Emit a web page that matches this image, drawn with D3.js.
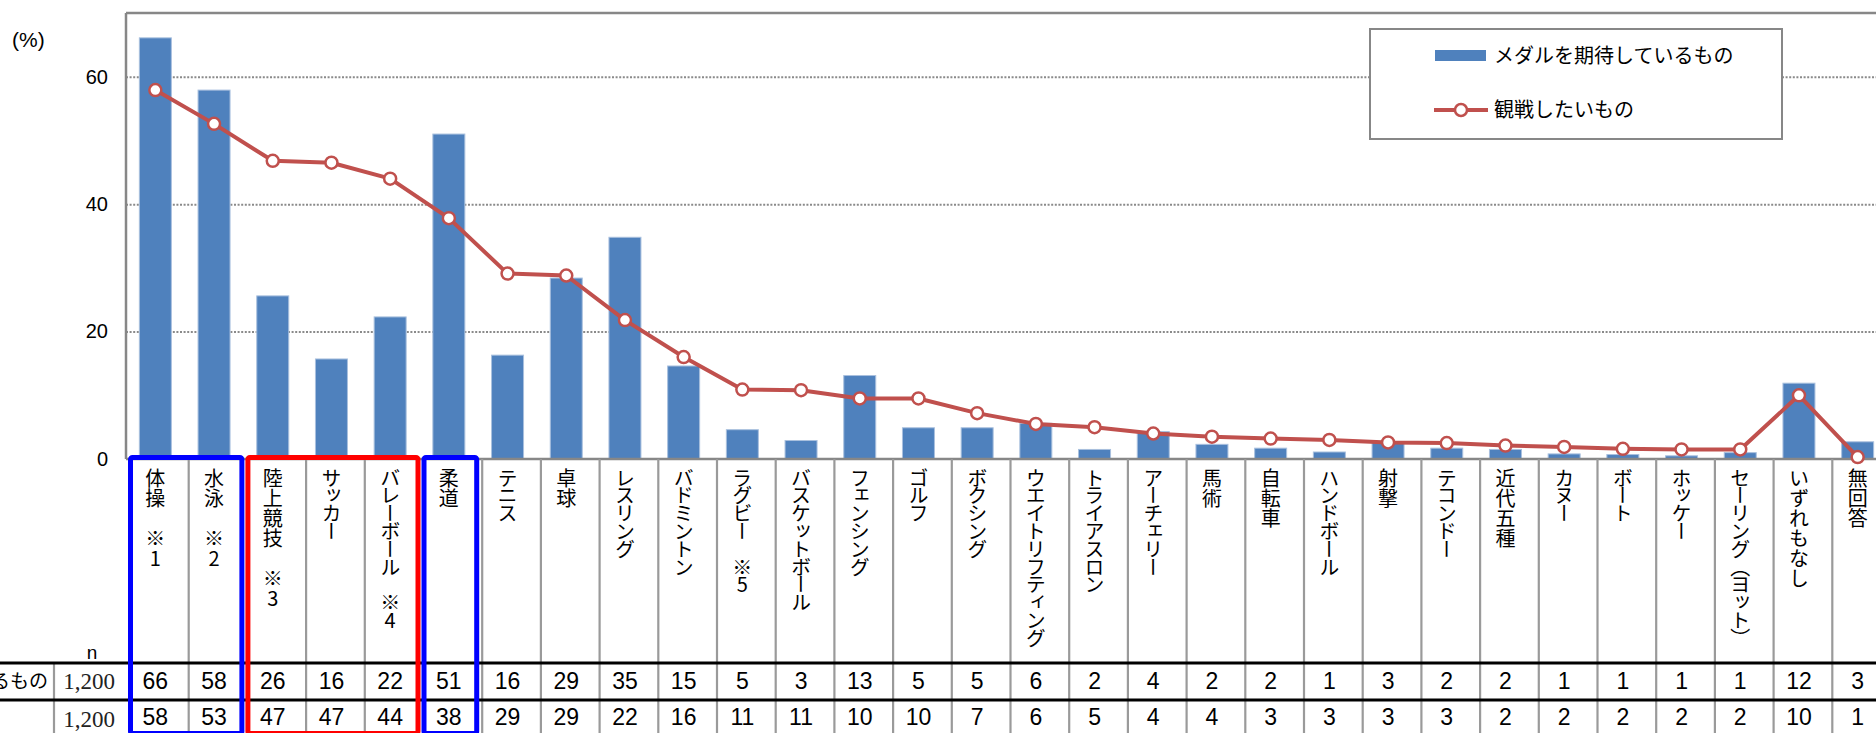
<!DOCTYPE html>
<html>
<head>
<meta charset="utf-8">
<script src="https://cdn.jsdelivr.net/npm/d3@7"></script>
<style>
  html, body { margin: 0; padding: 0; background: #fff; overflow: hidden; }
  svg { display: block; }
  .jp { font-family: "Noto Sans CJK JP", sans-serif; }
  .num { font-family: "Liberation Sans", Arial, sans-serif; }
</style>
</head>
<body>
<script>
"use strict";

// categories (with note marks as shown under the chart)
const categories = [
  "体操　※1", "水泳　※2", "陸上競技　※3", "サッカー", "バレーボール　※4", "柔道",
  "テニス", "卓球", "レスリング", "バドミントン", "ラグビー　※5", "バスケットボール",
  "フェンシング", "ゴルフ", "ボクシング", "ウエイトリフティング", "トライアスロン",
  "アーチェリー", "馬術", "自転車", "ハンドボール", "射撃", "テコンドー", "近代五種",
  "カヌー", "ボート", "ホッケー", "セーリング（ヨット）", "いずれもなし", "無回答"
];

const seriesNames = ["メダルを期待しているもの", "観戦したいもの"];

// bar series (%)
const medalValues = [
  66.1, 57.9, 25.6, 15.7, 22.3, 51.0, 16.3, 28.4, 34.8, 14.6,
  4.6, 2.9, 13.1, 4.9, 4.9, 5.6, 1.5, 4.3, 2.3, 1.7,
  1.1, 2.6, 1.7, 1.5, 0.8, 0.7, 0.5, 1.0, 11.9, 2.7
];

// line series (%)
const watchValues = [
  57.9, 52.6, 46.8, 46.5, 44.0, 37.8, 29.1, 28.8, 21.8, 16.0,
  10.9, 10.8, 9.5, 9.5, 7.2, 5.5, 5.0, 4.0, 3.5, 3.2,
  3.0, 2.6, 2.5, 2.1, 1.9, 1.6, 1.5, 1.5, 10.0, 0.3
];

// rounded values printed in the table rows
const medalTable = [66, 58, 26, 16, 22, 51, 16, 29, 35, 15, 5, 3, 13, 5, 5, 6, 2, 4, 2, 2, 1, 3, 2, 2, 1, 1, 1, 1, 12, 3];
const watchTable = [58, 53, 47, 47, 44, 38, 29, 29, 22, 16, 11, 11, 10, 10, 7, 6, 5, 4, 4, 3, 3, 3, 3, 2, 2, 2, 2, 2, 10, 1];
const sampleSizes = ["1,200", "1,200"];

const yTicks = [0, 20, 40, 60];

// highlighted groups of columns
const groups = [
  { from: 0, to: 1, color: "#0000ff" },
  { from: 2, to: 4, color: "#ff0000" },
  { from: 5, to: 5, color: "#0000ff" }
];

const m = {
  width: 1876,
  height: 733,
  left: 126,
  top: 13,
  bottom: 459,
  col: 58.7
};

const barColor = "#4f81bd";
const lineColor = "#c0504d";
const frameColor = "#878787";

const svg = d3
  .select("body")
  .append("svg")
  .attr("width", m.width)
  .attr("height", m.height);

const x = d3
  .scaleBand()
  .domain(categories)
  .range([m.left, m.left + m.col * categories.length])
  .padding(0);

const y = d3
  .scaleLinear()
  .domain([0, 70])
  .range([m.bottom, m.top]);

// grid lines
svg
  .append("g")
  .attr("transform", `translate(${m.left},0)`)
  .call(
    d3.axisLeft(y)
      .tickValues(yTicks.filter(d => d > 0))
      .tickSize(-(m.width - m.left))
      .tickFormat("")
  )
  .call(g => g.select(".domain").remove())
  .call(g =>
    g.selectAll("line")
      .attr("stroke", "#8a8a8a")
      .attr("stroke-width", 2)
      .attr("stroke-dasharray", "2,1.6")
  );

// y labels
svg
  .append("g")
  .attr("transform", `translate(${m.left},0)`)
  .call(d3.axisLeft(y).tickValues(yTicks).tickSize(0).tickPadding(18))
  .call(g => g.select(".domain").remove())
  .call(g =>
    g.selectAll("text")
      .attr("class", "num")
      .attr("font-size", 20)
      .attr("fill", "#000")
  );

svg
  .append("text")
  .attr("class", "num")
  .attr("x", 12)
  .attr("y", 47)
  .attr("font-size", 21)
  .text("(%)");

// bars
const bw = x.bandwidth() * 0.545;
svg
  .append("g")
  .selectAll("rect")
  .data(medalValues)
  .enter()
  .append("rect")
  .attr("x", (d, i) => x(categories[i]) + (x.bandwidth() - bw) / 2)
  .attr("y", d => y(d))
  .attr("width", bw)
  .attr("height", d => y(0) - y(d))
  .attr("fill", barColor)
  .attr("stroke", "#a9c0de")
  .attr("stroke-width", 1);

// frame
const frame = svg.append("g").attr("stroke", frameColor).attr("stroke-width", 2.5);
frame.append("line").attr("x1", m.left).attr("x2", m.left).attr("y1", m.top).attr("y2", m.bottom);
frame.append("line").attr("x1", m.left).attr("x2", m.width).attr("y1", m.top).attr("y2", m.top);
frame.append("line").attr("x1", m.left).attr("x2", m.width).attr("y1", m.bottom).attr("y2", m.bottom);

// line series
const cx = i => x(categories[i]) + x.bandwidth() / 2;
const line = d3
  .line()
  .x((d, i) => cx(i))
  .y(d => y(d));

svg
  .append("path")
  .datum(watchValues)
  .attr("d", line)
  .attr("fill", "none")
  .attr("stroke", lineColor)
  .attr("stroke-width", 4)
  .attr("stroke-linejoin", "round");

svg
  .append("g")
  .selectAll("circle")
  .data(watchValues)
  .enter()
  .append("circle")
  .attr("cx", (d, i) => cx(i))
  .attr("cy", d => y(d))
  .attr("r", 6)
  .attr("fill", "#fff")
  .attr("stroke", lineColor)
  .attr("stroke-width", 2.5);

// legend
const legend = svg.append("g");
legend
  .append("rect")
  .attr("x", 1370)
  .attr("y", 29)
  .attr("width", 412)
  .attr("height", 110)
  .attr("fill", "#fff")
  .attr("stroke", frameColor)
  .attr("stroke-width", 2);
legend
  .append("rect")
  .attr("x", 1435)
  .attr("y", 50)
  .attr("width", 51)
  .attr("height", 11)
  .attr("fill", barColor);
legend
  .append("line")
  .attr("x1", 1434)
  .attr("x2", 1488)
  .attr("y1", 110)
  .attr("y2", 110)
  .attr("stroke", lineColor)
  .attr("stroke-width", 4);
legend
  .append("circle")
  .attr("cx", 1461)
  .attr("cy", 110)
  .attr("r", 6)
  .attr("fill", "#fff")
  .attr("stroke", lineColor)
  .attr("stroke-width", 2.5);
legend
  .selectAll("text")
  .data(seriesNames)
  .enter()
  .append("text")
  .attr("class", "jp")
  .attr("x", 1494)
  .attr("y", (d, i) => (i === 0 ? 56 : 110))
  .attr("dy", "0.35em")
  .attr("font-size", 20)
  .text(d => d);

// table below the chart
const rowTop = 663;
const rowMid = 700;

const table = svg.append("g");

// column separators
table
  .selectAll("line.sep")
  .data(d3.range(categories.length + 1))
  .enter()
  .append("line")
  .attr("class", "sep")
  .attr("x1", i => m.left + i * m.col + 4)
  .attr("x2", i => m.left + i * m.col + 4)
  .attr("y1", m.bottom)
  .attr("y2", m.height)
  .attr("stroke", "#9a9a9a")
  .attr("stroke-width", 2.2);

table
  .append("line")
  .attr("x1", 54)
  .attr("x2", 54)
  .attr("y1", rowTop)
  .attr("y2", m.height)
  .attr("stroke", "#9a9a9a")
  .attr("stroke-width", 2.2);

// category labels, vertical (kana run a little tighter than kanji)
table
  .selectAll("text.cat")
  .data(categories)
  .enter()
  .append("text")
  .attr("class", "cat jp")
  .attr("x", d => x(d) + x.bandwidth() / 2)
  .attr("y", 468)
  .attr("font-size", 20)
  .attr("writing-mode", "vertical-rl")
  .style("text-orientation", "upright")
  .style("letter-spacing", d => (/[\u30A0-\u30FF]/.test(d) ? "-2.2px" : "0px"))
  .text(d => d);

// row rules
[rowTop, rowMid].forEach(yy => {
  table
    .append("line")
    .attr("x1", 0)
    .attr("x2", m.width)
    .attr("y1", yy)
    .attr("y2", yy)
    .attr("stroke", "#000")
    .attr("stroke-width", 3);
});

table
  .append("text")
  .attr("class", "num")
  .attr("x", 92)
  .attr("y", 659)
  .attr("text-anchor", "middle")
  .attr("font-size", 19)
  .text("n");

table
  .append("text")
  .attr("class", "jp")
  .attr("x", 48)
  .attr("y", 688)
  .attr("text-anchor", "end")
  .attr("font-size", 19)
  .text(seriesNames[0]);

table
  .selectAll("text.nsize")
  .data(sampleSizes)
  .enter()
  .append("text")
  .attr("class", "nsize")
  .attr("x", 89)
  .attr("y", (d, i) => (i === 0 ? 689 : 727))
  .attr("text-anchor", "middle")
  .attr("font-family", "'Liberation Serif', serif")
  .attr("font-size", 23)
  .attr("fill", "#222")
  .text(d => d);

[medalTable, watchTable].forEach((row, r) => {
  table
    .append("g")
    .selectAll("text")
    .data(row)
    .enter()
    .append("text")
    .attr("class", "num")
    .attr("x", (d, i) => cx(i))
    .attr("y", r === 0 ? 689 : 725)
    .attr("text-anchor", "middle")
    .attr("font-size", 23)
    .text(d => d);
});

// highlight boxes
svg
  .append("g")
  .selectAll("rect")
  .data(groups)
  .enter()
  .append("rect")
  .attr("x", d => x(categories[d.from]) + 4.5)
  .attr("y", 457.5)
  .attr("width", d => x(categories[d.to]) + x.bandwidth() - x(categories[d.from]) - 6)
  .attr("height", 276)
  .attr("rx", 2)
  .attr("fill", "none")
  .attr("stroke", d => d.color)
  .attr("stroke-width", 5);
</script>
</body>
</html>
